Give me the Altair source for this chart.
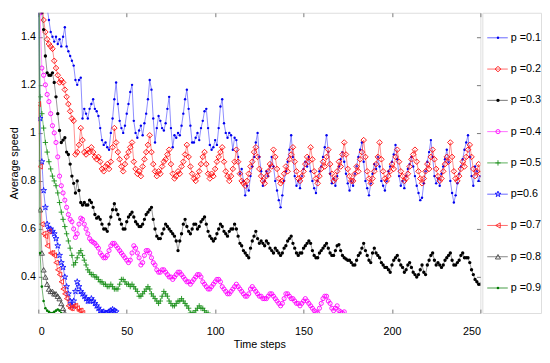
import altair as alt
import pandas as pd

labels = ["p =0.1", "p =0.2", "p =0.3", "p =0.4", "p =0.5", "p=0.6", "p =0.7", "p =0.8", "p =0.9"]

p01 = [2.0, 1.9, 1.8, 1.7, 1.6, 1.52, 1.47, 1.42, 1.40, 1.38,
       1.40, 1.37, 1.39, 1.36, 1.40, 1.44, 1.36, 1.34, 1.32, 1.30,
       1.28, 1.22, 1.20, 1.22, 1.23, 1.06, 1.10, 1.08, 1.06, 1.10,
       1.12, 1.14, 1.10, 1.09, 1.07, 1.02, 0.97, 0.95, 0.96, 0.94,
       0.93, 1.00, 1.06, 1.14, 1.21, 1.12, 1.05, 1.02, 1.00, 1.03,
       1.08, 1.12, 1.17, 1.20, 1.05, 1.00, 0.98, 1.01, 1.03, 0.99,
       1.04, 1.08, 1.14, 1.22, 1.18, 1.06, 0.96, 1.02, 1.07, 1.05,
       1.02, 1.01, 1.04, 1.10, 1.15, 1.02, 0.94, 0.99, 0.98, 1.00,
       0.99, 1.03, 1.08, 1.14, 1.18, 1.10, 1.03, 0.96, 0.96, 0.98,
       1.00, 0.97, 1.02, 1.05, 1.09, 1.10, 1.02, 0.95, 0.93, 0.94,
       0.97, 0.95, 1.02, 1.11, 1.14, 1.04, 1.00, 0.98, 1.00, 0.99,
       0.93, 0.98, 0.97, 0.90, 0.83, 0.85, 0.80, 0.74, 0.78, 0.76,
       0.82, 0.86, 0.90, 0.96, 1.00, 0.90, 0.84, 0.78, 0.80, 0.84,
       0.82, 0.86, 0.90, 0.86, 0.80, 0.76, 0.72, 0.69, 0.74, 0.80,
       0.84, 0.88, 0.93, 0.99, 0.90, 0.82, 0.78, 0.80, 0.77, 0.82,
       0.85, 0.88, 0.86, 0.90, 0.84, 0.80, 0.77, 0.75, 0.80, 0.84,
       0.86, 0.90, 0.94, 0.99, 0.92, 0.83, 0.79, 0.81, 0.78, 0.82,
       0.86, 0.89, 0.92, 0.88, 0.83, 0.79, 0.76, 0.80, 0.78, 0.83,
       0.86, 0.90, 0.93, 0.96, 0.88, 0.80, 0.77, 0.74, 0.79, 0.83,
       0.87, 0.85, 0.90, 0.86, 0.80, 0.78, 0.76, 0.80, 0.84, 0.86,
       0.88, 0.91, 0.95, 0.89, 0.82, 0.78, 0.80, 0.77, 0.82, 0.85,
       0.87, 0.90, 0.86, 0.82, 0.78, 0.75, 0.72, 0.73, 0.79, 0.84,
       0.88, 0.92, 0.97, 0.90, 0.82, 0.79, 0.81, 0.78, 0.83, 0.86,
       0.89, 0.93, 0.88, 0.80, 0.75, 0.71, 0.74, 0.79, 0.83, 0.86,
       0.89, 0.93, 0.96, 0.99, 0.90, 0.82, 0.78, 0.86, 0.84, 0.80,
       0.82]

p02 = [2.0, 1.8, 1.6, 1.47, 1.42, 1.39, 1.37, 1.36, 1.35, 1.30,
       1.27, 1.24, 1.21, 1.22, 1.21, 1.18, 1.15, 1.12, 1.09, 1.06,
       1.05, 0.91, 0.92, 0.95, 1.02, 0.97, 0.92, 0.91, 0.93, 0.92,
       0.94, 0.92, 0.90, 0.89, 0.90, 0.88, 0.85, 0.84, 0.86, 0.87,
       0.85, 0.88, 0.94, 1.02, 0.96, 0.92, 0.89, 0.86, 0.84, 0.87,
       0.90, 0.92, 0.94, 0.96, 0.88, 0.85, 0.83, 0.84, 0.82, 0.86,
       0.89, 0.92, 0.95, 0.99, 0.92, 0.87, 0.84, 0.82, 0.84, 0.83,
       0.86, 0.88, 0.89, 0.91, 0.93, 0.87, 0.83, 0.81, 0.82, 0.84,
       0.83, 0.86, 0.88, 0.91, 0.95, 0.90, 0.86, 0.83, 0.81, 0.80,
       0.82, 0.84, 0.87, 0.90, 0.92, 0.87, 0.83, 0.81, 0.83, 0.82,
       0.85, 0.88, 0.90, 0.92, 0.94, 0.88, 0.84, 0.82, 0.80, 0.82,
       0.85, 0.88, 0.93, 0.88, 0.83, 0.80, 0.79, 0.78, 0.80, 0.83,
       0.86, 0.88, 0.92, 0.94, 0.90, 0.85, 0.82, 0.80, 0.79, 0.82,
       0.84, 0.87, 0.86, 0.93, 0.90, 0.85, 0.81, 0.79, 0.80, 0.83,
       0.86, 0.84, 0.89, 0.91, 0.94, 0.88, 0.84, 0.81, 0.80, 0.82,
       0.84, 0.87, 0.90, 0.88, 0.94, 0.89, 0.84, 0.81, 0.79, 0.82,
       0.85, 0.88, 0.86, 0.90, 0.93, 0.87, 0.83, 0.80, 0.81, 0.84,
       0.88, 0.86, 0.91, 0.96, 0.91, 0.85, 0.82, 0.80, 0.80, 0.83,
       0.86, 0.84, 0.89, 0.92, 0.97, 0.90, 0.84, 0.81, 0.79, 0.81,
       0.84, 0.87, 0.90, 0.96, 0.89, 0.84, 0.81, 0.80, 0.82, 0.84,
       0.87, 0.85, 0.90, 0.93, 0.88, 0.84, 0.82, 0.80, 0.81, 0.83,
       0.86, 0.89, 0.91, 0.93, 0.88, 0.84, 0.81, 0.79, 0.81, 0.84,
       0.87, 0.85, 0.90, 0.93, 0.89, 0.85, 0.82, 0.80, 0.81, 0.84,
       0.87, 0.90, 0.88, 0.96, 0.90, 0.84, 0.81, 0.80, 0.82, 0.85,
       0.88, 0.86, 0.90, 0.93, 0.95, 0.90, 0.85, 0.82, 0.84, 0.87,
       0.83]

p03 = [2.0, 1.7, 1.5, 1.43, 1.32, 1.25, 1.24, 1.24, 1.25, 1.21,
       1.15, 1.08, 1.01, 0.96, 0.97, 0.98, 0.92, 0.91, 0.87, 0.82,
       0.79, 0.75, 0.80, 0.76, 0.71, 0.70, 0.71, 0.70, 0.70, 0.72,
       0.71, 0.69, 0.66, 0.645, 0.65, 0.64, 0.62, 0.60, 0.60, 0.59,
       0.62, 0.65, 0.68, 0.705, 0.68, 0.66, 0.64, 0.62, 0.60, 0.60,
       0.63, 0.65, 0.66, 0.67, 0.65, 0.63, 0.62, 0.61, 0.61, 0.62,
       0.64, 0.66, 0.67, 0.68, 0.69, 0.64, 0.60, 0.57, 0.56, 0.56,
       0.58, 0.60, 0.62, 0.61, 0.60, 0.59, 0.58, 0.57, 0.55, 0.51,
       0.55, 0.58, 0.62, 0.64, 0.61, 0.59, 0.58, 0.60, 0.62, 0.62,
       0.60, 0.61, 0.63, 0.64, 0.65, 0.62, 0.59, 0.57, 0.56, 0.55,
       0.56, 0.58, 0.60, 0.62, 0.61, 0.59, 0.58, 0.57, 0.59, 0.60,
       0.60, 0.62, 0.60, 0.57, 0.54, 0.53, 0.51, 0.50, 0.49, 0.48,
       0.52, 0.55, 0.57, 0.59, 0.56, 0.54, 0.55, 0.54, 0.53, 0.55,
       0.54, 0.52, 0.51, 0.50, 0.52, 0.51, 0.50, 0.49, 0.50, 0.52,
       0.53, 0.55, 0.56, 0.57, 0.54, 0.52, 0.50, 0.49, 0.50, 0.50,
       0.52, 0.53, 0.54, 0.55, 0.54, 0.51, 0.49, 0.48, 0.48, 0.50,
       0.51, 0.52, 0.53, 0.54, 0.52, 0.50, 0.49, 0.49, 0.51, 0.53,
       0.535, 0.51, 0.49, 0.48, 0.475, 0.47, 0.47, 0.46, 0.45, 0.45,
       0.47, 0.49, 0.50, 0.52, 0.54, 0.51, 0.49, 0.47, 0.46, 0.50,
       0.52, 0.50, 0.49, 0.48, 0.46, 0.45, 0.44, 0.44, 0.43, 0.42,
       0.45, 0.47, 0.48, 0.49, 0.47, 0.45, 0.44, 0.42, 0.43, 0.45,
       0.46, 0.44, 0.42, 0.41, 0.40, 0.41, 0.43, 0.45, 0.42, 0.41,
       0.45, 0.47, 0.49, 0.50, 0.47, 0.45, 0.46, 0.45, 0.44, 0.45,
       0.47, 0.48, 0.49, 0.50, 0.47, 0.45, 0.45, 0.46, 0.47, 0.49,
       0.50, 0.48, 0.48, 0.48, 0.46, 0.43, 0.41, 0.39, 0.38, 0.37,
       0.37]

p04 = [2.0, 1.5, 1.27, 1.24, 1.20, 1.16, 1.13, 1.08, 1.03, 1.00,
       0.96, 0.90, 0.82, 0.78, 0.75, 0.72, 0.69, 0.66, 0.64, 0.63,
       0.60, 0.565, 0.58, 0.62, 0.645, 0.64, 0.62, 0.60, 0.58, 0.56,
       0.55, 0.545, 0.54, 0.53, 0.52, 0.50, 0.49, 0.48, 0.48, 0.49,
       0.51, 0.53, 0.54, 0.54, 0.53, 0.52, 0.51, 0.50, 0.49, 0.48,
       0.47, 0.46, 0.47, 0.50, 0.53, 0.52, 0.50, 0.48, 0.45, 0.46,
       0.49, 0.51, 0.51, 0.50, 0.48, 0.46, 0.45, 0.43, 0.42, 0.42,
       0.43, 0.43, 0.42, 0.41, 0.40, 0.40, 0.39, 0.40, 0.41, 0.42,
       0.42, 0.41, 0.40, 0.39, 0.38, 0.38, 0.37, 0.38, 0.39, 0.40,
       0.41, 0.41, 0.40, 0.38, 0.37, 0.36, 0.35, 0.35, 0.36, 0.37,
       0.38, 0.39, 0.39, 0.38, 0.36, 0.35, 0.34, 0.33, 0.33, 0.34,
       0.35, 0.36, 0.37, 0.36, 0.35, 0.34, 0.33, 0.32, 0.32, 0.33,
       0.35, 0.36, 0.35, 0.34, 0.33, 0.32, 0.32, 0.31, 0.31, 0.31,
       0.32, 0.33, 0.33, 0.32, 0.31, 0.30, 0.29, 0.28, 0.29, 0.31,
       0.33, 0.33, 0.32, 0.31, 0.31, 0.30, 0.29, 0.29, 0.28, 0.29,
       0.30, 0.31, 0.30, 0.29, 0.28, 0.27, 0.26, 0.255, 0.25, 0.27,
       0.29, 0.31, 0.32, 0.32, 0.30, 0.29, 0.27, 0.26, 0.27, 0.28,
       0.26, 0.255, 0.25, 0.255, 0.22]

p05 = [2.0, 1.15, 1.08, 1.02, 0.96, 0.92, 0.88, 0.85, 0.82, 0.80,
       0.78, 0.75, 0.71, 0.67, 0.64, 0.61, 0.58, 0.55, 0.52, 0.49,
       0.45, 0.46, 0.48, 0.50, 0.51, 0.49, 0.47, 0.45, 0.43, 0.42,
       0.41, 0.41, 0.40, 0.40, 0.39, 0.38, 0.38, 0.37, 0.37, 0.36,
       0.36, 0.37, 0.36, 0.35, 0.35, 0.35, 0.37, 0.39, 0.39, 0.38,
       0.37, 0.37, 0.36, 0.37, 0.36, 0.35, 0.34, 0.32, 0.32, 0.33,
       0.34, 0.35, 0.36, 0.35, 0.33, 0.32, 0.31, 0.30, 0.29, 0.30,
       0.32, 0.34, 0.33, 0.32, 0.30, 0.29, 0.28, 0.28, 0.29, 0.30,
       0.30, 0.31, 0.30, 0.29, 0.28, 0.27, 0.25, 0.25, 0.25, 0.26,
       0.27, 0.28, 0.27, 0.27, 0.26, 0.25, 0.25, 0.22]

p06 = [1.6, 1.06, 0.88, 0.76, 0.69, 0.62, 0.60, 0.60, 0.59, 0.58,
       0.56, 0.53, 0.49, 0.46, 0.44, 0.40, 0.36, 0.33, 0.30, 0.28,
       0.30, 0.34, 0.38, 0.36, 0.34, 0.33, 0.32, 0.31, 0.30, 0.30,
       0.31, 0.30, 0.29, 0.28, 0.27, 0.26, 0.25, 0.255, 0.25, 0.25,
       0.255, 0.26, 0.265, 0.26, 0.255, 0.22]

p07 = [1.12, 0.86, 0.62, 0.58, 0.57, 0.53, 0.59, 0.50, 0.50, 0.49,
       0.46, 0.43, 0.41, 0.38, 0.35, 0.33, 0.31, 0.28, 0.27, 0.27,
       0.28, 0.28, 0.27, 0.26, 0.26, 0.25, 0.22]

p08 = [2.0, 0.68, 0.50, 0.43, 0.40, 0.37, 0.35, 0.34, 0.34, 0.33,
       0.33, 0.32, 0.31, 0.29, 0.27, 0.25, 0.22]

p09 = [2.0, 0.50, 0.36, 0.30, 0.27, 0.26, 0.255, 0.25, 0.25, 0.255,
       0.26, 0.265, 0.26, 0.25, 0.22]

series = [p01, p02, p03, p04, p05, p06, p07, p08, p09]

x_ticks = [0, 50, 100, 150, 200, 250]
y_ticks = [0.4, 0.6, 0.8, 1.0, 1.2, 1.4]

marker_colors = ["#0000ee", "#ff0000", "#000000", "#ff00ff", "#1a8f1a",
                 "#1010ff", "#ff2020", "#404040", "#007a00"]
line_colors = ["#5555ff", "#ff5a5a", "#666666", "#ff5cff", "#45a545",
               "#5555ff", "#ff5a5a", "#777777", "#2f8f2f"]
STAR = ("M0,-1L0.2245,-0.309L0.951,-0.309L0.363,0.118L0.588,0.809L0,0.382"
        "L-0.588,0.809L-0.363,0.118L-0.951,-0.309L-0.2245,-0.309Z")
PLUS = "M-1,0H1M0,-1V1"
marker_shapes = ["circle", "diamond", "circle", "circle", PLUS,
                 STAR, "triangle-left", "triangle-up", "circle"]
marker_filled = [True, False, True, False, False, False, False, False, True]
marker_sizes = [6, 32, 12, 18, 30, 40, 28, 28, 7]

FONT = "Liberation Sans"
PLOT_W, PLOT_H = 452, 307

xscale = alt.Scale(domain=[0, 250], nice=False, zero=False)
yscale = alt.Scale(domain=[0.25, 1.5], nice=False, zero=False)

ax_bottom = alt.Axis(orient="bottom", values=x_ticks, offset=-4, tickSize=4, domain=False,
                     grid=False, tickColor="#777777", labelPadding=13, labelFont=FONT,
                     labelFontSize=11, labelColor="black", title="Time steps",
                     titleFont=FONT, titleFontSize=11, titleFontWeight="normal",
                     titleColor="black", titlePadding=2)
ax_left = alt.Axis(orient="left", values=y_ticks, offset=-4, tickSize=4, domain=False,
                   grid=False, tickColor="#777777", labelPadding=3, labelFont=FONT,
                   labelFontSize=11, labelColor="black", format=".1~f",
                   title="Average speed", titleFont=FONT, titleFontSize=11,
                   titleFontWeight="normal", titleColor="black", titlePadding=1)
ax_top = alt.Axis(orient="top", values=x_ticks, offset=-4, tickSize=4, domain=False,
                  grid=False, tickColor="#777777", labels=False, title=None)
ax_right = alt.Axis(orient="right", values=y_ticks, offset=-4, tickSize=4, domain=False,
                    grid=False, tickColor="#777777", labels=False, title=None)

layers = []
for i, vals in enumerate(series):
    df = pd.DataFrame({"t": list(range(len(vals))), "v": vals})
    if i == 0:
        xa_line, ya_line, xa_pt, ya_pt = ax_bottom, ax_left, ax_top, ax_right
    else:
        xa_line = ya_line = xa_pt = ya_pt = None
    line = alt.Chart(df).mark_line(color=line_colors[i], strokeWidth=0.8, opacity=0.85,
                                   clip=True).encode(
        x=alt.X("t:Q", scale=xscale, axis=xa_line),
        y=alt.Y("v:Q", scale=yscale, axis=ya_line),
    )
    pts = alt.Chart(df).mark_point(shape=marker_shapes[i], filled=marker_filled[i],
                                   size=marker_sizes[i], color=marker_colors[i],
                                   strokeWidth=0.9, opacity=1, clip=True).encode(
        x=alt.X("t:Q", scale=xscale, axis=xa_pt),
        y=alt.Y("v:Q", scale=yscale, axis=ya_pt),
    )
    layers += [line, pts]

main = alt.layer(*layers).resolve_axis(x="independent", y="independent").properties(
    width=PLOT_W, height=PLOT_H)

leg_layers = []
lscale = alt.Scale(domain=labels, padding=0.6)
for i, lab in enumerate(labels):
    ldf = pd.DataFrame({"label": [lab]})
    yenc = alt.Y("label:N", scale=lscale, axis=None)
    leg_layers.append(alt.Chart(ldf).mark_rule(color=line_colors[i], strokeWidth=0.9).encode(
        x=alt.value(5), x2=alt.value(26), y=yenc))
    leg_layers.append(alt.Chart(ldf).mark_point(shape=marker_shapes[i], filled=marker_filled[i],
                                                size=marker_sizes[i], color=marker_colors[i],
                                                strokeWidth=0.9, opacity=1).encode(
        x=alt.value(16), y=yenc))
    leg_layers.append(alt.Chart(ldf).mark_text(align="left", baseline="middle", font=FONT,
                                               fontSize=11, color="black").encode(
        x=alt.value(29), y=yenc, text="label:N"))

legend = alt.layer(*leg_layers).properties(width=60, height=PLOT_H)

chart = alt.hconcat(main, legend, spacing=0).properties(
    padding={"left": 0, "top": 0, "right": 0, "bottom": 0}
).configure_view(stroke="#808080", strokeWidth=1).configure(background="white")

chart.save("out.html", embed_options={"renderer": "svg", "actions": False})
